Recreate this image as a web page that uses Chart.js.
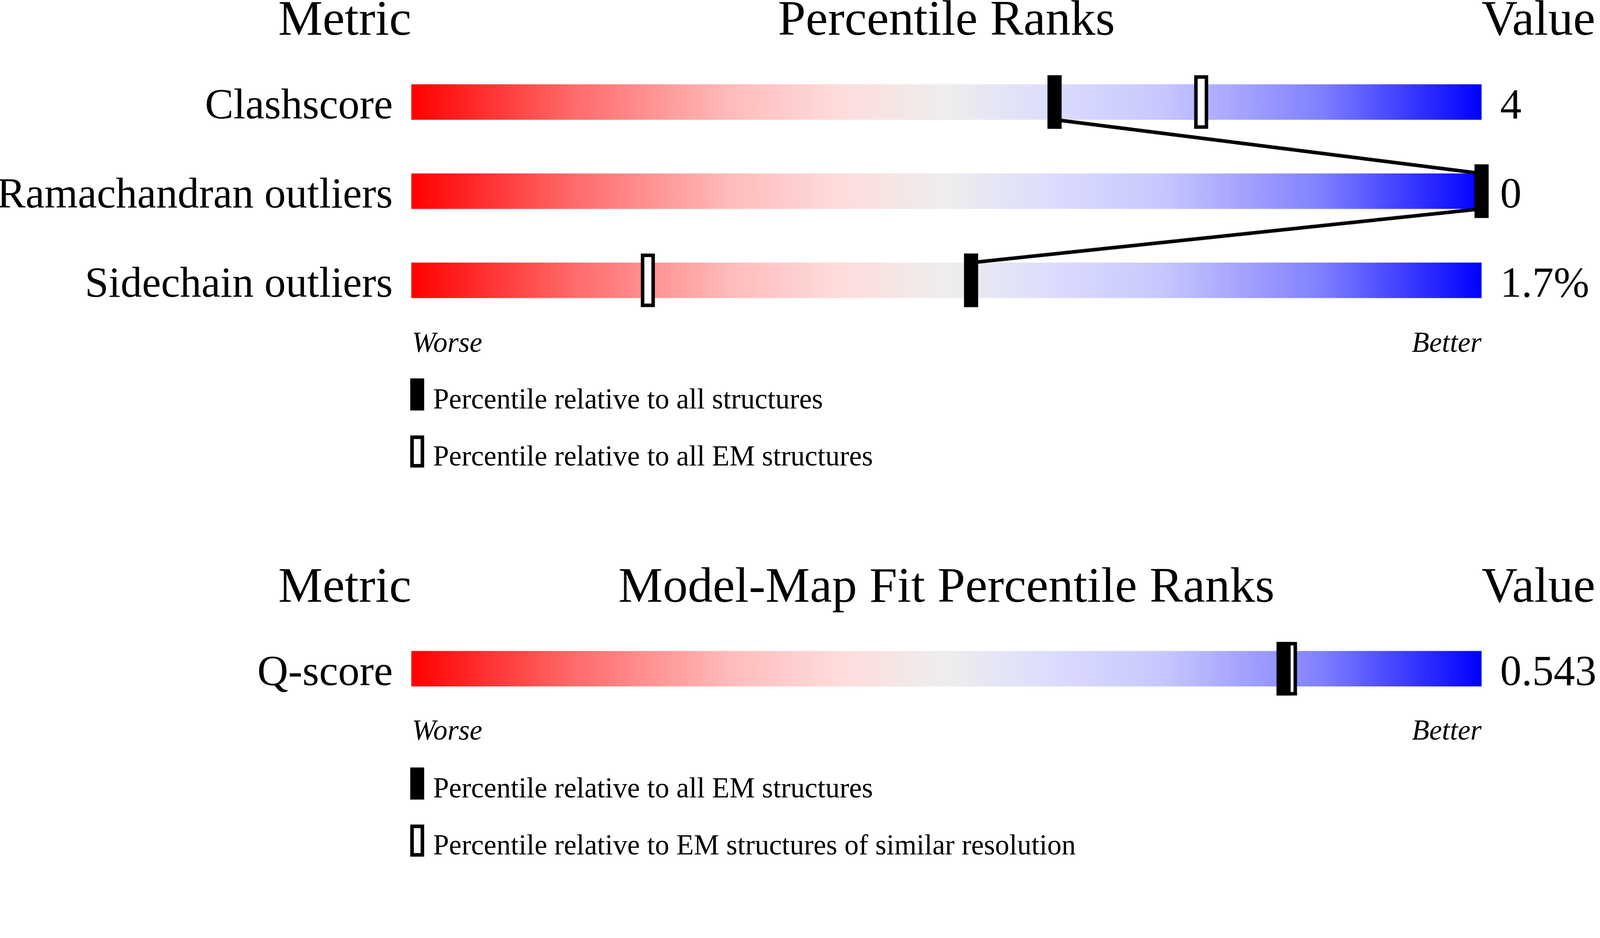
<!DOCTYPE html>
<html>
<head>
<meta charset="utf-8">
<script src="https://cdn.jsdelivr.net/npm/chart.js@4"></script>
<style>
  html, body { margin:0; padding:0; background:#fff; overflow:hidden; }
  #page { position:absolute; left:0; top:0; width:4485px; height:2402px; transform-origin:0 0;
          font-family:"Liberation Serif","Times New Roman",serif; color:#000; background:#fff; }
  .t { position:absolute; line-height:1; white-space:nowrap; }
  .hdr { font-size:140px; }
  .wb  { font-size:80px; font-style:italic; }
  .lg  { font-size:80px; }
  .box { position:absolute; box-sizing:border-box; width:39px; height:90px; }
  .box.solid { background:#000; }
  .box.open  { background:#fff; border:10px solid #000; }
  canvas { position:absolute; left:0; }
</style>
</head>
<body>
<div id="page">
<!-- top block -->
<div class="t hdr" style="top:-20px; right:3332px;">Metric</div>
<div class="t hdr" style="top:-20px; left:1153px; width:3000px; text-align:center;">Percentile Ranks</div>
<div class="t hdr" style="top:-20px; left:4153px;">Value</div>
<canvas id="chart-top" width="4485" height="750" style="top:161px;"></canvas>
<div class="t wb" style="top:920px; left:1155px;">Worse</div>
<div class="t wb" style="top:920px; right:332px;">Better</div>
<div class="box solid" style="left:1150px; top:1061px;"></div>
<div class="t lg" style="top:1078px; left:1214px;">Percentile relative to all structures</div>
<div class="box open" style="left:1150px; top:1221px;"></div>
<div class="t lg" style="top:1238px; left:1214px;">Percentile relative to all EM structures</div>

<!-- bottom block -->
<div class="t hdr" style="top:1570px; right:3332px;">Metric</div>
<div class="t hdr" style="top:1570px; left:1153px; width:3000px; text-align:center;">Model-Map Fit Percentile Ranks</div>
<div class="t hdr" style="top:1570px; left:4153px;">Value</div>
<canvas id="chart-fit" width="4485" height="250" style="top:1750px;"></canvas>
<div class="t wb" style="top:2007px; left:1155px;">Worse</div>
<div class="t wb" style="top:2007px; right:332px;">Better</div>
<div class="box solid" style="left:1150px; top:2152px;"></div>
<div class="t lg" style="top:2169px; left:1214px;">Percentile relative to all EM structures</div>
<div class="box open" style="left:1150px; top:2312px;"></div>
<div class="t lg" style="top:2329px; left:1214px;">Percentile relative to EM structures of similar resolution</div>
</div>

<script>
// ---- data ----
const metrics      = ['Clashscore', 'Ramachandran outliers', 'Sidechain outliers'];
const metricValues = ['4', '0', '1.7%'];
const pctAll       = [60.1, 100, 52.3];     // percentile vs all structures
const pctEM        = [73.8, null, 22.1];    // percentile vs all EM structures

const fitMetrics   = ['Q-score'];
const fitValues    = ['0.543'];
const fitPctEM     = [81.5];                // vs all EM structures
const fitPctRes    = [82.1];                // vs EM structures of similar resolution

// fit the 4485x2402 layout into whatever CSS viewport we get
const page = document.getElementById('page');
const fit = Math.min(window.innerWidth / 4485, window.innerHeight / 2402);
page.style.transform = `scale(${fit})`;

// ---- styling ----
const FONT = 'Liberation Serif';
const MARK_HALF = 0.65;   // half marker width, in percentile units
const BAR_H = 99, MARK_H = 150;
const STOPS = [
  [0.00, '#ff0000'], [0.15, '#ff6a6a'], [0.30, '#ffbcbc'], [0.40, '#ffdcdc'],
  [0.50, '#eeeeee'], [0.60, '#dcdcff'], [0.70, '#c8c8ff'], [0.85, '#8080ff'],
  [1.00, '#0000ff']
];

const span = arr => arr.map(p => p == null ? null : [p - MARK_HALF, p + MARK_HALF]);

function sliderFill(c) {
  const { chart } = c;
  if (!chart.chartArea) return '#eeeeee';
  const x = chart.scales.x;
  const g = chart.ctx.createLinearGradient(x.getPixelForValue(0), 0, x.getPixelForValue(100), 0);
  STOPS.forEach(([o, col]) => g.addColorStop(o, col));
  return g;
}

// line joining the "all structures" markers, bottom of one bar to top of the next
const joinLine = {
  id: 'joinLine',
  afterDatasetDraw(chart, args, opts) {
    if (!opts.enabled || args.index !== 0) return;
    const bars = chart.getDatasetMeta(0).data;
    const marks = chart.getDatasetMeta(2).data;
    const c = chart.ctx;
    c.save();
    c.strokeStyle = '#000';
    c.lineWidth = 10;
    c.beginPath();
    for (let i = 0; i < marks.length - 1; i++) {
      const a = marks[i], b = marks[i + 1];
      c.moveTo((a.x + a.base) / 2, bars[i].y + bars[i].height / 2);
      c.lineTo((b.x + b.base) / 2, bars[i + 1].y - bars[i + 1].height / 2);
    }
    c.stroke();
    c.restore();
  }
};

function sideAxis(width) {
  return function (s) { s.width = width; s.paddingTop = 0; s.paddingBottom = 0; };
}

function makeSlider(id, labels, values, all, em, join) {
  return new Chart(document.getElementById(id), {
    type: 'bar',
    data: {
      labels,
      datasets: [
        { data: labels.map(() => [0, 100]), backgroundColor: sliderFill,
          barThickness: BAR_H, grouped: false, order: 4 },
        { data: span(em), backgroundColor: '#ffffff', borderColor: '#000000',
          borderWidth: 10, borderSkipped: false, barThickness: MARK_H,
          grouped: false, order: 2, clip: false },
        { data: span(all), backgroundColor: '#000000', borderWidth: 0,
          barThickness: MARK_H, grouped: false, order: 1, clip: false }
      ]
    },
    options: {
      indexAxis: 'y',
      responsive: false,
      animation: false,
      devicePixelRatio: 1,
      layout: { padding: 0 },
      events: [],
      plugins: { legend: { display: false }, tooltip: { enabled: false },
                 joinLine: { enabled: join } },
      scales: {
        x: { type: 'linear', min: 0, max: 100, display: false },
        y: {
          position: 'left', offset: true,
          grid: { display: false, drawTicks: false }, border: { display: false },
          ticks: { color: '#000', padding: 52, labelOffset: 14, font: { family: FONT, size: 120 } },
          afterFit: sideAxis(1153)
        },
        y2: {
          type: 'category', labels: values, position: 'right', offset: true,
          grid: { display: false, drawTicks: false }, border: { display: false },
          ticks: { color: '#000', padding: 52, labelOffset: 14, font: { family: FONT, size: 120 } },
          afterFit: sideAxis(332)
        }
      }
    },
    plugins: [joinLine]
  });
}

makeSlider('chart-top', metrics, metricValues, pctAll, pctEM, true);
makeSlider('chart-fit', fitMetrics, fitValues, fitPctEM, fitPctRes, false);
</script>
</body>
</html>
